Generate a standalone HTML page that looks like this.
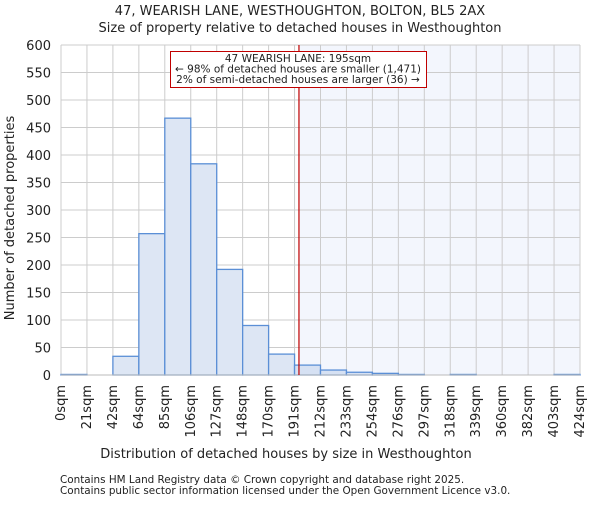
<!DOCTYPE html>
<html><head><meta charset="utf-8"><style>
body{margin:0;background:#fff}
text{font-family:"DejaVu Sans","Liberation Sans",sans-serif;fill:#222}
</style></head><body>
<svg id="c" width="600" height="500" xmlns="http://www.w3.org/2000/svg">
<text x="300" y="15" font-size="13" text-anchor="middle">47, WEARISH LANE, WESTHOUGHTON, BOLTON, BL5 2AX</text>
<text x="300" y="32" font-size="13" text-anchor="middle">Size of property relative to detached houses in Westhoughton</text>
<g id="plot"></g>
<text x="286" y="458" font-size="13" text-anchor="middle">Distribution of detached houses by size in Westhoughton</text>
<text x="14" y="218" font-size="13" text-anchor="middle" transform="rotate(-90 14 218)">Number of detached properties</text>
<text x="60" y="483" font-size="10.4">Contains HM Land Registry data © Crown copyright and database right 2025.</text>
<text x="60" y="494" font-size="10.4">Contains public sector information licensed under the Open Government Licence v3.0.</text>
</svg>
<script>
const binLabels=["0sqm","21sqm","42sqm","64sqm","85sqm","106sqm","127sqm","148sqm","170sqm","191sqm","212sqm","233sqm","254sqm","276sqm","297sqm","318sqm","339sqm","360sqm","382sqm","403sqm","424sqm"];
const counts=[1,0,34,257,467,384,192,90,38,18,9,5,3,1,0,1,0,0,0,1];
const yTicks=[0,50,100,150,200,250,300,350,400,450,500,550,600];
const propertyBin=9.17;
const NS="http://www.w3.org/2000/svg";
const L=61,R=580,T=45,B=375,n=counts.length,bw=(R-L)/n;
const xs=i=>L+i*bw, ys=v=>B-(v/600)*(B-T);
const g=document.getElementById('plot');
function mk(t,a){const e=document.createElementNS(NS,t);for(const k in a)e.setAttribute(k,a[k]);g.appendChild(e);return e;}
let e=mk('rect',{x:xs(propertyBin),y:T,width:R-xs(propertyBin),height:B-T,fill:'#f3f6fd'});


yTicks.forEach(v=>{
 let l=mk('line',{x1:L,x2:R,y1:ys(v),y2:ys(v),stroke:'#cccccc'});
 
 
 let t=mk('text',{x:L-10,y:ys(v)+5,'font-size':13,'text-anchor':'end'});t.textContent=v;
 
 
});
binLabels.forEach((s,i)=>{
 let l=mk('line',{x1:xs(i),x2:xs(i),y1:T,y2:B,stroke:'#cccccc'});
 
 
 let x=xs(i)+4,y=B+10;
 let t=mk('text',{x:x,y:y,'font-size':13,'text-anchor':'end',transform:`rotate(-90 ${x} ${y})`});t.textContent=s;
 
 
});
counts.forEach((c,i)=>{
 if(c<=0)return;
 let r=mk('rect',{x:xs(i),y:ys(c),width:bw,height:B-ys(c),fill:i>=9?'#d6e1f3':'#dde6f4',stroke:'#5b8fd6','stroke-width':1.3});
 
 
});
let ax=mk('line',{x1:L,x2:R,y1:B,y2:B,stroke:'#bbbbbb'});


let ml=mk('line',{x1:xs(propertyBin),x2:xs(propertyBin),y1:T,y2:B,stroke:'#c00000','stroke-width':1.2});


let box=mk('rect',{x:170.5,y:51.5,width:256,height:36,fill:'#fff',stroke:'#c00000'});


["47 WEARISH LANE: 195sqm","← 98% of detached houses are smaller (1,471)","2% of semi-detached houses are larger (36) →"].forEach((s,i)=>{
 let t=mk('text',{x:298,y:62+i*10.5,'font-size':10.5,'text-anchor':'middle'});t.textContent=s;
 
 
});
</script>
</body></html>
